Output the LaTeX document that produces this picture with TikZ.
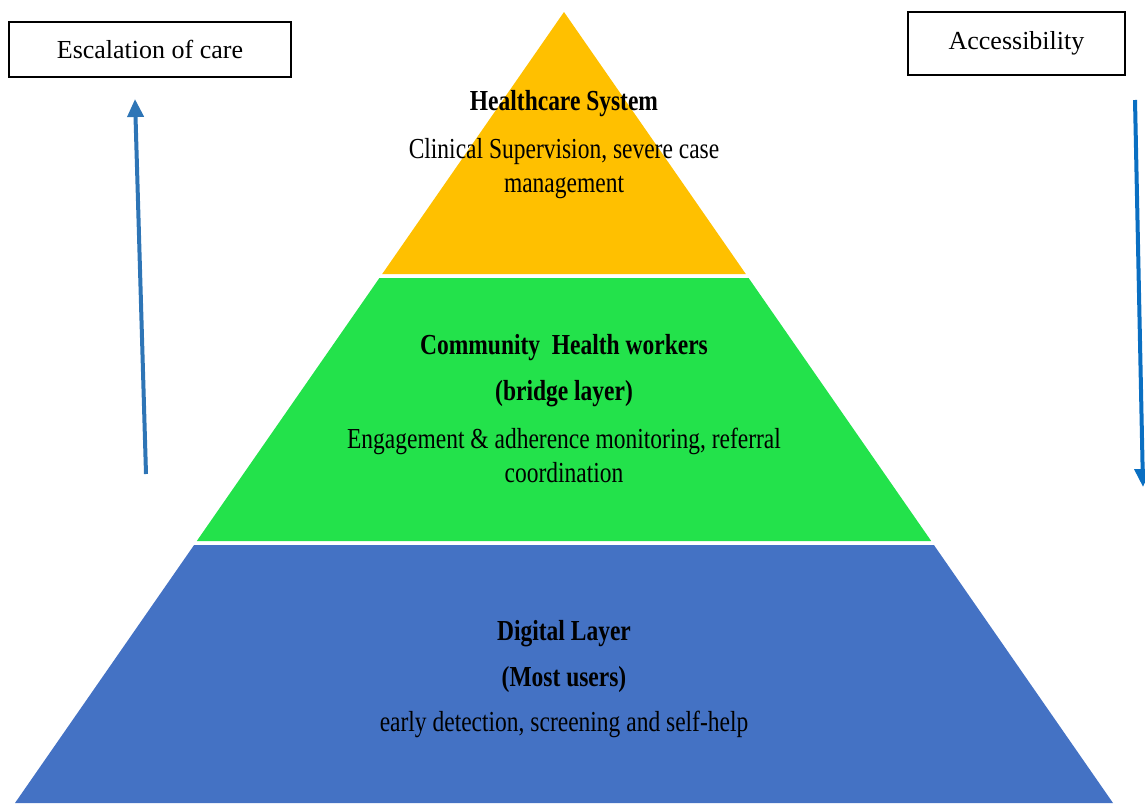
\documentclass[tikz,border=0pt]{standalone}
\usepackage{fontspec}
\setmainfont{Liberation Serif}
% narrow serif face for the text inside the pyramid tiers
\newfontfamily\layerfont[FakeStretch=0.81]{Liberation Serif}
\usetikzlibrary{arrows.meta}

\definecolor{tierGold}{HTML}{FFC000}
\definecolor{tierGreen}{HTML}{23E24B}
\definecolor{tierBlue}{HTML}{4472C4}
\definecolor{flowBlue}{HTML}{2E75B6}
\definecolor{flowBlueDeep}{HTML}{0A6FC2}

\begin{document}
\begin{tikzpicture}[x=1pt,y=-1pt,
  layertext/.style={anchor=base, inner sep=0pt, font=\layerfont\fontsize{29}{34}\selectfont},
  layerhead/.style={anchor=base, inner sep=0pt, font=\layerfont\bfseries\fontsize{29}{34}\selectfont},
  labelbox/.style={draw=black, line width=1.2pt, inner sep=0pt, font=\fontsize{26}{31}\selectfont},
  flow/.style={line width=4pt, -{Triangle[length=18pt,width=16pt]}}
]
\useasboundingbox (0,0) rectangle (1145,803);
\clip (0,0) rectangle (1145,803);

% pyramid tiers, separated by thin white gaps
\fill[tierGold]  (564,12) -- (745.8,274) -- (382.2,274) -- cycle;
\fill[tierGreen] (379.4,278) -- (748.6,278) -- (931.2,541) -- (196.8,541) -- cycle;
\fill[tierBlue]  (194.1,545) -- (933.9,545) -- (1113,803) -- (15,803) -- cycle;

% top tier
\node[layerhead] (hcTitle) at (564,110) {Healthcare System};
\node[layertext] (hcDesc1) at (564,158) {Clinical Supervision, severe case};
\node[layertext] (hcDesc2) at (564,192) {management};

% middle tier
\node[layerhead] (chwTitle) at (564,354) {Community\ \ Health workers};
\node[layerhead] (chwSub)   at (564,400) {(bridge layer)};
\node[layertext] (chwDesc1) at (564,448) {Engagement \& adherence monitoring, referral};
\node[layertext] (chwDesc2) at (564,482) {coordination};

% bottom tier
\node[layerhead] (dlTitle) at (564,640) {Digital Layer};
\node[layerhead] (dlSub)   at (564,686) {(Most users)};
\node[layertext] (dlDesc)  at (564,731) {early detection, screening and self-help};

% side labels
\node[labelbox, minimum width=282pt, minimum height=55pt] (escBox) at (150,49.5) {Escalation of care};
\node[labelbox, minimum width=217pt, minimum height=63pt] (accBox) at (1016.5,43.5) {Accessibility};

% direction arrows
\coordinate (escTail) at (146,474);
\coordinate (escTip)  at (135,99);
\draw[flow, draw=flowBlue, fill=flowBlue] (escTail) -- (escTip);
\coordinate (accTail) at (1135,100);
\coordinate (accTip)  at (1143,487);
\draw[flow, draw=flowBlueDeep, fill=flowBlueDeep] (accTail) -- (accTip);
\end{tikzpicture}
\end{document}
